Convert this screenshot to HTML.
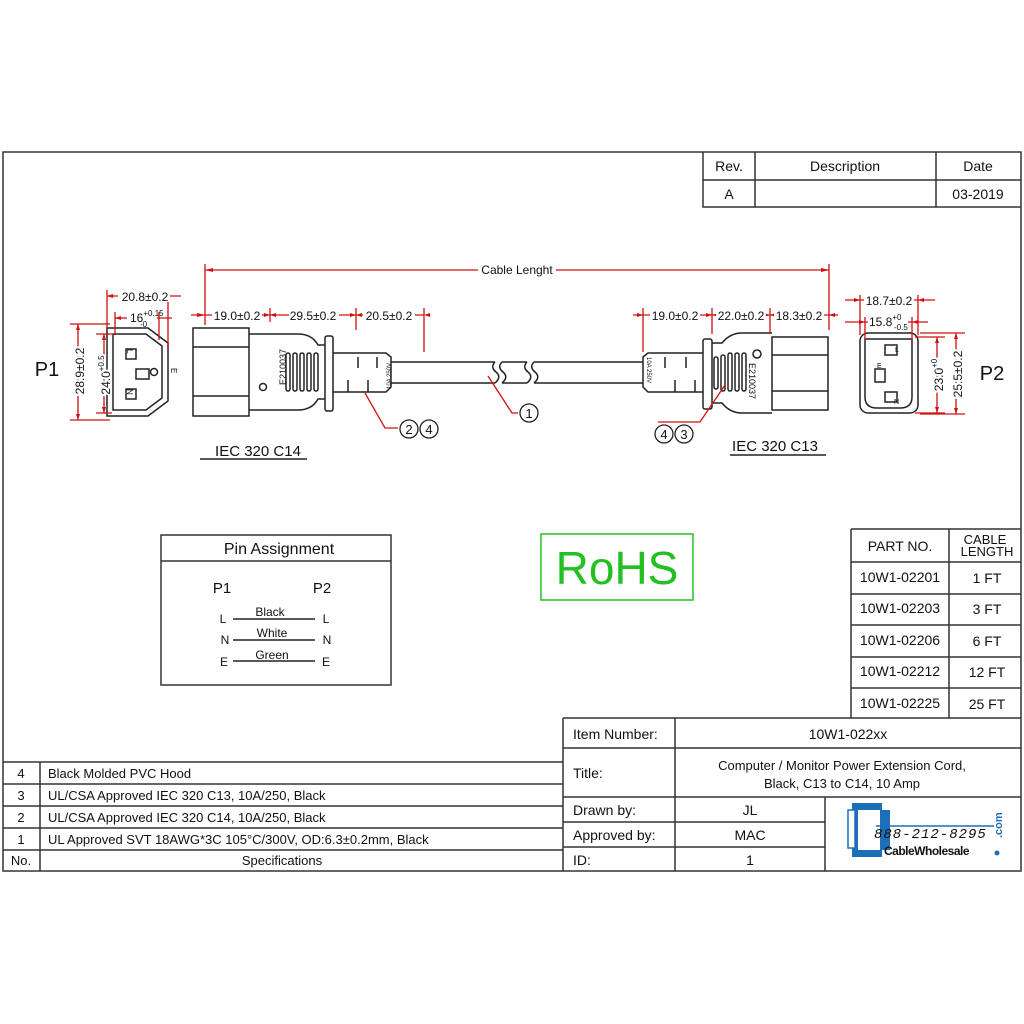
<!DOCTYPE html>
<html><head><meta charset="utf-8"><style>
html,body{margin:0;padding:0;background:#fff;}
svg{display:block;}
text{font-family:"Liberation Sans",sans-serif;fill:#111;}
</style></head><body>
<svg width="1024" height="1024" viewBox="0 0 1024 1024" xmlns="http://www.w3.org/2000/svg">
<rect x="0" y="0" width="1024" height="1024" fill="#fff"/>
<g fill="none" stroke="#333" stroke-width="1.5">
<rect x="3" y="152" width="1018" height="719"/>
<!-- rev table -->
<path d="M703 152V207H1021M703 180H1021M755 152V207M936 152V207"/>
<!-- part table -->
<path d="M851 529H1021M851 529V718M949 529V718M851 562H1021M851 594H1021M851 625H1021M851 657H1021M851 688H1021"/>
<!-- item block -->
<path d="M563 718H1021M563 718V871M675 718V871M563 748H1021M563 797H1021M825 797V871M563 822H825M563 847H825"/>
<!-- specs -->
<path d="M3 762H563M3 784H563M3 806H563M3 828H563M3 850H563M40 762V871"/>
<!-- pin box -->
<rect x="161" y="535" width="230" height="150"/>
<path d="M161 561H391"/>
</g>
<g font-size="14">
<text x="729" y="171" text-anchor="middle">Rev.</text>
<text x="845" y="171" text-anchor="middle">Description</text>
<text x="978" y="171" text-anchor="middle">Date</text>
<text x="729" y="199" text-anchor="middle">A</text>
<text x="978" y="199" text-anchor="middle">03-2019</text>
<text x="900" y="551" text-anchor="middle">PART NO.</text>
<text x="985" y="544" text-anchor="middle" font-size="13">CABLE</text>
<text x="987" y="556" text-anchor="middle" font-size="13">LENGTH</text>
<text x="900" y="582" text-anchor="middle">10W1-02201</text><text x="987" y="583" text-anchor="middle">1 FT</text>
<text x="900" y="613" text-anchor="middle">10W1-02203</text><text x="987" y="614" text-anchor="middle">3 FT</text>
<text x="900" y="645" text-anchor="middle">10W1-02206</text><text x="987" y="646" text-anchor="middle">6 FT</text>
<text x="900" y="676" text-anchor="middle">10W1-02212</text><text x="987" y="677" text-anchor="middle">12 FT</text>
<text x="900" y="708" text-anchor="middle">10W1-02225</text><text x="987" y="709" text-anchor="middle">25 FT</text>
<text x="573" y="739">Item Number:</text>
<text x="848" y="739" text-anchor="middle">10W1-022xx</text>
<text x="573" y="778">Title:</text>
<text x="842" y="770" text-anchor="middle" font-size="13">Computer / Monitor Power Extension Cord,</text>
<text x="842" y="788" text-anchor="middle" font-size="13">Black, C13 to C14, 10 Amp</text>
<text x="573" y="815">Drawn by:</text><text x="750" y="815" text-anchor="middle">JL</text>
<text x="573" y="840">Approved by:</text><text x="750" y="840" text-anchor="middle">MAC</text>
<text x="573" y="865">ID:</text><text x="750" y="865" text-anchor="middle">1</text>
<g font-size="13">
<text x="21" y="778" text-anchor="middle">4</text><text x="48" y="778">Black Molded PVC Hood</text>
<text x="21" y="800" text-anchor="middle">3</text><text x="48" y="800">UL/CSA Approved IEC 320 C13, 10A/250, Black</text>
<text x="21" y="822" text-anchor="middle">2</text><text x="48" y="822">UL/CSA Approved IEC 320 C14, 10A/250, Black</text>
<text x="21" y="844" text-anchor="middle">1</text><text x="48" y="844">UL Approved  SVT 18AWG*3C 105°C/300V, OD:6.3±0.2mm, Black</text>
<text x="21" y="865" text-anchor="middle">No.</text><text x="282" y="865" text-anchor="middle">Specifications</text>
</g>
<text x="279" y="554" text-anchor="middle" font-size="16">Pin Assignment</text>
<text x="222" y="593" text-anchor="middle" font-size="15">P1</text>
<text x="322" y="593" text-anchor="middle" font-size="15">P2</text>
<g font-size="12">
<text x="223" y="623" text-anchor="middle">L</text><text x="326" y="623" text-anchor="middle">L</text><text x="270" y="616" text-anchor="middle">Black</text>
<text x="225" y="644" text-anchor="middle">N</text><text x="327" y="644" text-anchor="middle">N</text><text x="272" y="637" text-anchor="middle">White</text>
<text x="224" y="666" text-anchor="middle">E</text><text x="326" y="666" text-anchor="middle">E</text><text x="272" y="659" text-anchor="middle">Green</text>
</g>
</g>
<path d="M233 619H315M233 640H315M233 661H315" stroke="#222" stroke-width="1.5"/>
<rect x="541" y="534" width="152" height="66" fill="none" stroke="#22c022" stroke-width="1.5"/>
<text x="617" y="584" text-anchor="middle" font-size="46" style="fill:#22c022">RoHS</text>

<!-- logo -->
<g>
<path d="M852 803h30v7h8v40h-8v7h-30z" fill="#1d6fb8"/>
<rect x="848" y="810" width="7" height="38" fill="#fff" stroke="#1d6fb8" stroke-width="1.5"/>
<rect x="858" y="810" width="22" height="40" fill="#fff"/>
<path d="M876 826H994" stroke="#1d6fb8" stroke-width="1.5"/>
<text x="874" y="838" font-size="14" font-style="italic" font-family="Liberation Mono" style="fill:#111;font-family:'Liberation Mono',monospace;letter-spacing:1px">888-212-8295</text>
<text x="884" y="855" font-size="12" font-weight="bold" style="fill:#111;letter-spacing:-0.5px">CableWholesale</text>
<text x="1002" y="838" font-size="11" font-weight="bold" transform="rotate(-90 1002 838)" style="fill:#1d6fb8">.com</text>
<circle cx="997" cy="853" r="2.5" fill="#1d6fb8"/>
</g>

<!-- DRAWING -->
<g fill="none" stroke="#222" stroke-width="1.5">
<!-- P1 face -->
<path d="M107 328H148L168 343V401L148 416H107Z"/>
<path d="M113 334H146L162 346V398L146 410H113Z"/>
<rect x="126" y="349" width="10" height="10"/>
<rect x="126" y="389" width="10" height="10"/>
<rect x="136" y="369" width="13" height="10"/>
<circle cx="154" cy="372" r="3.5"/>
<!-- C14 plug -->
<rect x="193" y="328" width="56" height="88"/>
<path d="M193 347H249M193 396H249"/>
<path d="M249 334H298Q312 334 318 345L325 345M249 410H298Q312 410 318 399L325 399"/>
<rect x="325" y="336" width="8" height="75" rx="2"/>
<path d="M333 353H386L391 357V387L386 392H333"/>
<rect x="286" y="353" width="4" height="38" rx="2"/><rect x="293" y="353" width="4" height="38" rx="2"/><rect x="300" y="353" width="4" height="38" rx="2"/><rect x="307" y="353" width="4" height="38" rx="2"/><rect x="314" y="353" width="4" height="38" rx="2"/>
<path d="M358 357V368M377 357V368M348 380V392M368 380V392"/>
<circle cx="263" cy="387" r="3.5"/>
<!-- cable -->
<path d="M391 362H495M391 383H495M502 362H527M502 383H527"/>
<path d="M495 362Q490 367 496 372Q502 377 495 383M502 362Q497 367 503 372Q509 377 502 383"/>
<path d="M527 362Q522 367 528 372Q534 377 527 383M534 362Q529 367 535 372Q541 377 534 383"/>
<path d="M534 362H643M534 383H643"/>
<!-- C13 plug -->
<path d="M703 353H648L643 357V387L648 392H703"/>
<path d="M665 357V368M686 357V368M675 380V392M695 380V392"/>
<rect x="703" y="339" width="9" height="70" rx="2"/>
<path d="M712 343H722Q730 333 742 333H772M712 403H722Q730 413 742 413H772"/>
<rect x="714" y="357" width="4" height="32" rx="2"/><rect x="721" y="355" width="4" height="36" rx="2"/><rect x="728" y="353" width="4" height="38" rx="2"/><rect x="735" y="353" width="4" height="38" rx="2"/><rect x="742" y="353" width="4" height="38" rx="2"/>
<circle cx="757" cy="354" r="4"/>
<rect x="772" y="337" width="56" height="73"/>
<path d="M772 355H828M772 391H828"/>
<!-- P2 face -->
<rect x="860" y="333" width="58" height="80" rx="8"/>
<path d="M865 339H912V397Q912 408 900 408H877Q865 408 865 397Z"/>
<rect x="885" y="345" width="12" height="10"/>
<rect x="875" y="369" width="10" height="13"/>
<rect x="885" y="392" width="12" height="10"/>
</g>
<g font-size="10">
<text x="0" y="0" transform="translate(286 385) rotate(-90)" font-size="9">E210037</text>
<text x="0" y="0" transform="translate(749 363) rotate(90)" font-size="9">E210037</text>
<text x="0" y="0" transform="translate(391 389) rotate(-90)" font-size="6">10A 250V</text>
<text x="0" y="0" transform="translate(647 357) rotate(90)" font-size="6">10A 250V</text>
<text x="0" y="0" transform="translate(127 349) rotate(90)" font-size="8">L</text>
<text x="0" y="0" transform="translate(127 389) rotate(90)" font-size="8">N</text>
<text x="0" y="0" transform="translate(171 368) rotate(90)" font-size="8">E</text>
<text x="895" y="352" font-size="7">L</text><text x="877" y="368" font-size="7">E</text><text x="894" y="404" font-size="7">N</text>
</g>
<!-- red dimensions -->
<g stroke="#d01010" stroke-width="1.3" fill="none">
<path d="M205 264V325M829 264V330M205 270H829"/>
<path d="M191 315H424M356 308V330M424 308V352M270 308V322"/>
<path d="M107 296H181M107 290V330M168 290V348M115 318H172M115 312V335M159 312V340"/>
<path d="M70 324H110M70 420H110M78 324V420M96 334H112M96 413H112M104 334V413"/>
<path d="M633 315H838M643 308V352M712 308V334M770 308V334"/>
<path d="M845 300H935M860 295V335M918 295V335M845 322H928M865 317V340M912 317V340"/>
<path d="M915 337H945M915 413H945M937 337V413M920 333H965M920 414H965M956 333V414"/>
<path d="M365 393L385 428H398M488 376L512 413H518M658 422H700L725 385"/>
</g>
<g fill="#d01010">
<path d="M205 270l8-2v4zM829 270l-8-2v4z"/>
<path d="M205 315l-8-2v4zM270 315l-6-2v4zM270 315l6-2v4zM356 315l-6-2v4zM356 315l6-2v4zM424 315l6-2v4z"/>
<path d="M643 315l-6-2v4zM712 315l-6-2v4zM712 315l6-2v4zM770 315l-6-2v4zM770 315l6-2v4zM829 315l6-2v4z"/>
<path d="M107 296l6-2v4zM168 296l-6-2v4zM115 318l6-2v4zM159 318l-6-2v4z"/>
<path d="M860 300l-6-2v4zM918 300l6-2v4zM865 322l-6-2v4zM912 322l6-2v4z"/>
<path d="M78 324l-2 6h4zM78 420l-2-6h4zM104 334l-2 6h4zM104 413l-2-6h4z"/>
<path d="M937 337l-2 6h4zM937 413l-2-6h4zM956 333l-2 6h4zM956 414l-2-6h4z"/>
</g>
<g font-size="12">
<rect x="478" y="263" width="78" height="13" fill="#fff"/>
<text x="517" y="274" text-anchor="middle">Cable Lenght</text>
<rect x="212" y="309" width="50" height="12" fill="#fff"/><text x="237" y="320" text-anchor="middle">19.0±0.2</text>
<rect x="289" y="309" width="50" height="12" fill="#fff"/><text x="313" y="320" text-anchor="middle">29.5±0.2</text>
<rect x="363" y="309" width="52" height="12" fill="#fff"/><text x="389" y="320" text-anchor="middle">20.5±0.2</text>
<rect x="650" y="309" width="50" height="12" fill="#fff"/><text x="675" y="320" text-anchor="middle">19.0±0.2</text>
<rect x="716" y="309" width="50" height="12" fill="#fff"/><text x="741" y="320" text-anchor="middle">22.0±0.2</text>
<rect x="774" y="309" width="50" height="12" fill="#fff"/><text x="799" y="320" text-anchor="middle">18.3±0.2</text>
<rect x="118" y="290" width="52" height="12" fill="#fff"/><text x="145" y="301" text-anchor="middle">20.8±0.2</text>
<rect x="127" y="311" width="30" height="12" fill="#fff"/><text x="130" y="322">16<tspan font-size="8" dy="-6">+0.15</tspan></text>
<text x="140" y="327" font-size="8">-0</text>
<rect x="864" y="294" width="50" height="12" fill="#fff"/><text x="889" y="305" text-anchor="middle">18.7±0.2</text>
<rect x="868" y="316" width="40" height="12" fill="#fff"/><text x="869" y="326">15.8<tspan font-size="8" dy="-6">+0</tspan></text>
<text x="894" y="330" font-size="8">-0.5</text>
<text x="0" y="0" transform="translate(84 398) rotate(-90)" text-anchor="middle" font-size="12"><tspan x="27" y="0" text-anchor="middle" style="paint-order:stroke" stroke="#fff" stroke-width="4">28.9±0.2</tspan></text>
<text x="0" y="0" transform="translate(110 375) rotate(-90)" text-anchor="middle" style="paint-order:stroke" stroke="#fff" stroke-width="4">24.0<tspan font-size="8" dy="-6">+0.5</tspan></text>
<text x="0" y="0" transform="translate(943 375) rotate(-90)" text-anchor="middle" style="paint-order:stroke" stroke="#fff" stroke-width="4">23.0<tspan font-size="8" dy="-6">+0</tspan></text>
<text x="0" y="0" transform="translate(962 374) rotate(-90)" text-anchor="middle" style="paint-order:stroke" stroke="#fff" stroke-width="4">25.5±0.2</text>
</g>
<text x="47" y="376" text-anchor="middle" font-size="20">P1</text>
<text x="992" y="380" text-anchor="middle" font-size="20">P2</text>
<text x="258" y="456" text-anchor="middle" font-size="15">IEC 320 C14</text>
<path d="M200 459H307" stroke="#222" stroke-width="1.5"/>
<text x="775" y="451" text-anchor="middle" font-size="15">IEC 320 C13</text>
<path d="M730 455H826" stroke="#222" stroke-width="1.5"/>
<g fill="#fff" stroke="#222" stroke-width="1.3">
<circle cx="409" cy="429" r="9"/><circle cx="429" cy="429" r="9"/>
<circle cx="529" cy="413" r="9"/>
<circle cx="664" cy="434" r="9"/><circle cx="684" cy="434" r="9"/>
</g>
<g font-size="13" text-anchor="middle">
<text x="409" y="434">2</text><text x="429" y="434">4</text>
<text x="529" y="418">1</text>
<text x="664" y="439">4</text><text x="684" y="439">3</text>
</g>
</svg>
</body></html>
